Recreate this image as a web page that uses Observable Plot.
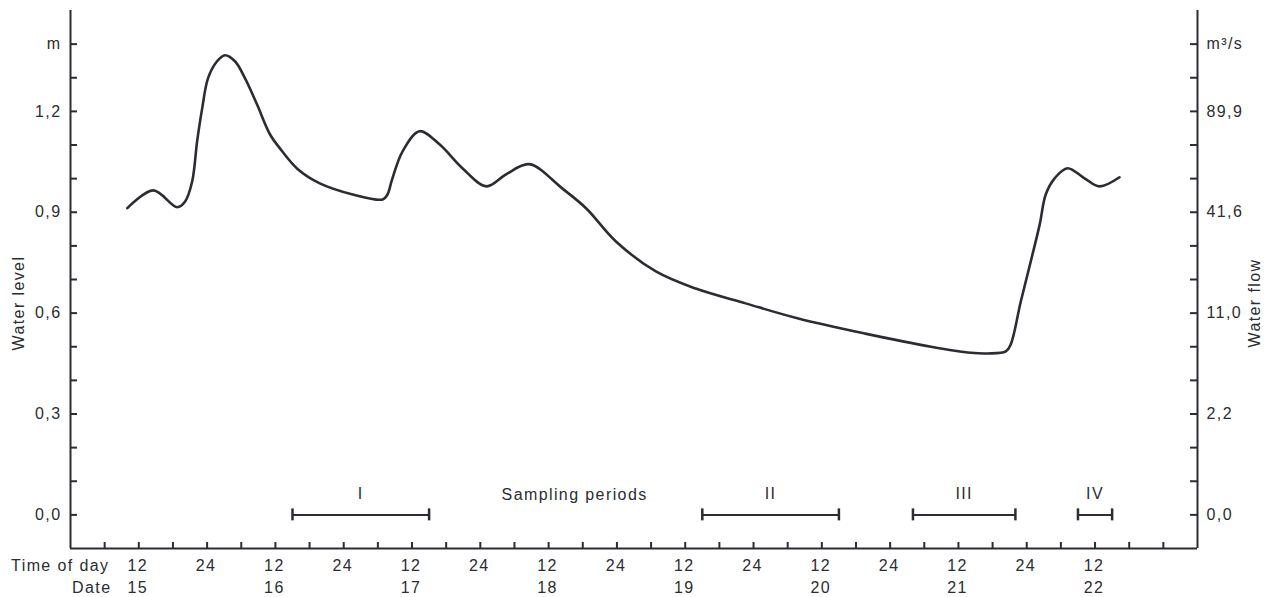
<!DOCTYPE html>
<html><head><meta charset="utf-8">
<script src="https://cdn.jsdelivr.net/npm/d3@7"></script>
<script src="https://cdn.jsdelivr.net/npm/@observablehq/plot@0.6"></script>
<style>
html,body{margin:0;padding:0;background:#fff;}
#chart svg text{letter-spacing:1.4px;}
</style></head><body><div id="chart"></div>
<script>
// Water level curve: x = day of month (decimal), y = water level (m)
const day = [15.416, 15.606, 15.781, 15.839, 15.891, 15.927, 15.964, 16.007, 16.073, 16.131, 16.204, 16.277, 16.365, 16.460, 16.533, 16.664, 16.825, 17.066, 17.285, 17.321, 17.350, 17.431, 17.555, 17.701, 17.869, 18.044, 18.190, 18.358, 18.599, 18.774, 18.993, 19.285, 19.577, 19.942, 20.328, 20.818, 21.299, 21.591, 21.715, 21.847, 21.883, 21.956, 22.029, 22.095, 22.139, 22.204, 22.299, 22.423, 22.533, 22.679];
const level = [0.912, 0.965, 0.915, 0.932, 0.992, 1.111, 1.209, 1.299, 1.349, 1.367, 1.349, 1.299, 1.221, 1.132, 1.090, 1.028, 0.986, 0.953, 0.938, 0.953, 0.992, 1.081, 1.141, 1.102, 1.031, 0.977, 1.013, 1.043, 0.971, 0.912, 0.813, 0.724, 0.673, 0.629, 0.584, 0.539, 0.500, 0.482, 0.480, 0.486, 0.507, 0.634, 0.753, 0.864, 0.953, 1.001, 1.031, 1.001, 0.977, 1.004];

const xDomain = [15, 23.25];
const yDomain = [-0.1, 1.5];

// Y axis ticks
const levelTicks = [0, 0.1, 0.2, 0.3, 0.4, 0.5, 0.6, 0.7, 0.8, 0.9, 1.0, 1.1, 1.2, 1.3, 1.4];
const labelLevels = [0, 0.3, 0.6, 0.9, 1.2, 1.4];
const levelLabels = ["0,0", "0,3", "0,6", "0,9", "1,2", "m"];
const flowLabels = ["0,0", "2,2", "11,0", "41,6", "89,9", "m³/s"];

// X axis ticks (every 6 hours)
const timeTicks = [15.25, 15.5, 15.75, 16.0, 16.25, 16.5, 16.75, 17.0, 17.25, 17.5, 17.75, 18.0, 18.25, 18.5, 18.75, 19.0, 19.25, 19.5, 19.75, 20.0, 20.25, 20.5, 20.75, 21.0, 21.25, 21.5, 21.75, 22.0, 22.25, 22.5, 22.75, 23.0];
const timeLabelPos = [15.5, 16.0, 16.5, 17.0, 17.5, 18.0, 18.5, 19.0, 19.5, 20.0, 20.5, 21.0, 21.5, 22.0, 22.5];
const timeLabels = ["12", "24", "12", "24", "12", "24", "12", "24", "12", "24", "12", "24", "12", "24", "12"];
const datePos = [15.5, 16.5, 17.5, 18.5, 19.5, 20.5, 21.5, 22.5];
const dateLabels = ["15", "16", "17", "18", "19", "20", "21", "22"];

// Sampling periods
const periodNames = ["I", "II", "III", "IV"];
const periodStart = [16.625, 19.625, 21.167, 22.375];
const periodEnd = [17.625, 20.625, 21.917, 22.625];

const ink = "#2b2d33";
const curve = day.map((d, i) => ({day: d, level: level[i]}));
const periods = periodNames.map((n, i) => ({name: n, start: periodStart[i], end: periodEnd[i]}));
const caps = periods.flatMap(p => [p.start, p.end]);
const labelRows = labelLevels.map((v, i) => ({v, left: levelLabels[i], right: flowLabels[i]}));
const xMin = xDomain[0], xMax = xDomain[1], yMin = yDomain[0];

const chart = Plot.plot({
  width: 1273,
  height: 597,
  marginLeft: 70,
  marginRight: 76,
  marginTop: 10,
  marginBottom: 49,
  x: {domain: xDomain, axis: null},
  y: {domain: yDomain, axis: null},
  style: {fontFamily: "'Liberation Sans', Arial, sans-serif", fontSize: "16px", color: ink, background: "#fff"},
  marks: [
    // axis lines
    Plot.ruleX(xDomain, {y1: yDomain[0], y2: yDomain[1], stroke: ink, strokeWidth: 2}),
    Plot.ruleY([yMin], {x1: xMin, x2: xMax, stroke: ink, strokeWidth: 2}),
    // inward ticks
    Plot.ruleY(levelTicks, {y: d => d, x1: xMin, x2: xMin, insetRight: -7, stroke: ink, strokeWidth: 2}),
    Plot.ruleY(levelTicks, {y: d => d, x1: xMax, x2: xMax, insetLeft: -7, stroke: ink, strokeWidth: 2}),
    Plot.ruleX(timeTicks, {x: d => d, y1: yMin, y2: yMin, insetTop: -6, stroke: ink, strokeWidth: 2}),
    // tick labels
    Plot.text(labelRows, {x: () => xMin, y: "v", text: "left", textAnchor: "end", dx: -9, fill: ink}),
    Plot.text(labelRows, {x: () => xMax, y: "v", text: "right", textAnchor: "start", dx: 9, fill: ink}),
    Plot.text(timeLabelPos, {x: d => d, y: () => yMin, text: (d, i) => timeLabels[i], dy: 17, dx: -1, fill: ink}),
    Plot.text(datePos, {x: d => d, y: () => yMin, text: (d, i) => dateLabels[i], dy: 39, dx: -1, fill: ink}),
    Plot.text(["Time of day"], {x: () => xMin, y: () => yMin, text: d => d, textAnchor: "end", dx: 39, dy: 17, fill: ink}),
    Plot.text(["Date"], {x: () => xMin, y: () => yMin, text: d => d, textAnchor: "end", dx: 41, dy: 39, fill: ink}),
    // axis titles
    Plot.text(["Water level"], {x: () => xMin, y: () => 0.63, text: d => d, rotate: -90, dx: -52, fill: ink}),
    Plot.text(["Water flow"], {x: () => xMax, y: () => 0.63, text: d => d, rotate: -90, dx: 57, fill: ink}),
    // sampling periods
    Plot.ruleY(periods, {x1: "start", x2: "end", y: () => 0, stroke: ink, strokeWidth: 2}),
    Plot.ruleX(caps, {x: d => d, y1: () => 0, y2: () => 0, insetTop: -6, insetBottom: -6, stroke: ink, strokeWidth: 2.5}),
    Plot.text(periods, {x: d => (d.start + d.end) / 2, y: () => 0, text: "name", dy: -21, fill: ink}),
    Plot.text(["Sampling periods"], {x: () => 18.69, y: () => 0, text: d => d, dy: -20, fill: ink}),
    // water level curve
    Plot.line(curve, {x: "day", y: "level", curve: "catmull-rom", stroke: ink, strokeWidth: 2.6})
  ]
});
document.getElementById("chart").appendChild(chart);
</script></body></html>
